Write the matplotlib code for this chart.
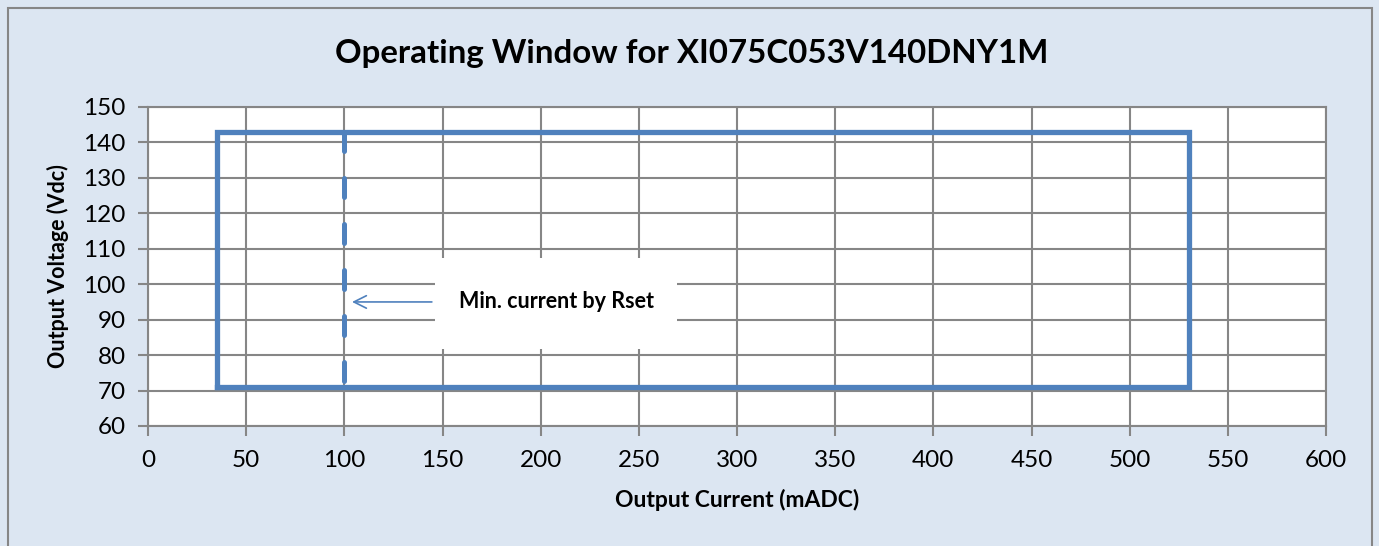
import matplotlib.pyplot as plt
from matplotlib.patches import Rectangle

# operating window corners (mADC, Vdc)
win_current = [35, 530, 530, 35, 35]
win_voltage = [71, 71, 143, 143, 71]

# minimum current set by Rset
rset_current = [100, 100]
rset_voltage = [143, 71]

note_text = "Min. current by Rset"
note_xy = (100, 95)

blue = '#4F81BD'
grey = '#868686'
bg = '#DCE6F2'

plt.rcParams['font.family'] = ['Lato', 'DejaVu Sans']

fig = plt.figure(figsize=(13.79, 5.46), dpi=100, facecolor=bg)
fig.patches.append(Rectangle((8 / 1379, -0.1), (1372 - 8) / 1379, 1.1 - 8 / 546,
                             transform=fig.transFigure, fill=False,
                             edgecolor=grey, linewidth=1.5))
ax = fig.add_axes([148 / 1379, 1 - 426 / 546, (1326 - 148) / 1379, (426 - 107) / 546])
ax.set_facecolor('white')

ax.set_xlim(0, 600)
ax.set_ylim(60, 150)
ax.set_xticks(range(0, 601, 50))
ax.set_yticks(range(60, 151, 10))
ax.grid(True, color=grey, linewidth=1.5)
ax.set_axisbelow(True)
for s in ax.spines.values():
    s.set_color(grey)
    s.set_linewidth(1.5)
ax.tick_params(colors=grey, labelcolor='black', labelsize=17.5, length=7, width=1.5)
ax.tick_params(axis='x', pad=10)
ax.tick_params(axis='y', pad=9)

ax.plot(win_current, win_voltage, color=blue, linewidth=3.8, solid_joinstyle='miter', zorder=3)
ax.plot(rset_current, rset_voltage, color=blue, linewidth=3.6, linestyle=(0, (3.8, 5.4)),
        dash_capstyle='round', zorder=3)

# white label box covering the grid
ax.add_patch(Rectangle((146, 81.7), 123.5, 25.7, facecolor='white', edgecolor='none', zorder=2))
ax.text(208, 95, note_text, ha='center', va='center', fontsize=15.5, fontweight='bold', zorder=4)
ax.annotate('', xy=(note_xy[0] + 2.5, note_xy[1]), xytext=(146, 95),
            arrowprops=dict(arrowstyle='->,head_length=0.9,head_width=0.45', color=blue, linewidth=1.2),
            zorder=4)

ax.set_xlabel('Output Current (mADC)', fontsize=16.5, fontweight='bold', va='center')
ax.set_ylabel('Output Voltage (Vdc)', fontsize=15.5, fontweight='bold', va='center')
ax.xaxis.set_label_coords(0.5, (426 - 500) / 319)
ax.yaxis.set_label_coords((58 - 148) / 1178, 0.5)
fig.text(692 / 1379, 1 - 53 / 546, 'Operating Window for XI075C053V140DNY1M',
         ha='center', va='center', fontsize=23.8, fontweight='bold')

fig.savefig('out.png', dpi=100, facecolor=bg)
